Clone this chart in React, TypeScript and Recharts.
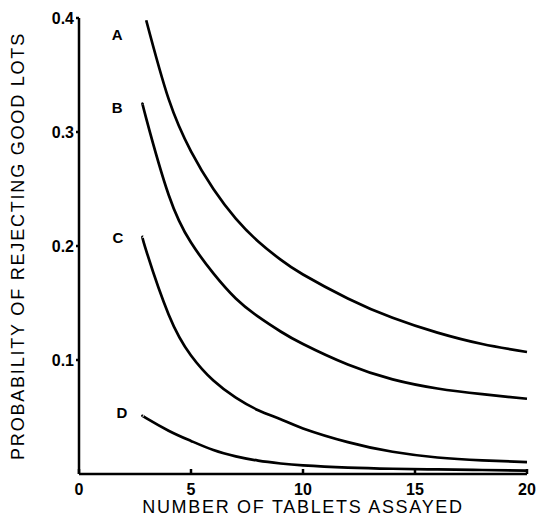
import React from 'react';
import { LineChart, Line, XAxis, YAxis, ReferenceDot, Label } from 'recharts';

const TABLETS = [2.85, 3, 4, 5, 6, 7, 8, 9, 10, 12, 14, 16, 18, 20];
const CURVE_A = [null, 0.398, 0.329, 0.283, 0.25, 0.224, 0.204, 0.188, 0.175, 0.154, 0.137, 0.124, 0.114, 0.107];
const CURVE_B = [0.324, 0.312, 0.245, 0.203, 0.176, 0.154, 0.138, 0.125, 0.114, 0.096, 0.083, 0.075, 0.07, 0.066];
const CURVE_C = [0.208, 0.196, 0.14, 0.104, 0.082, 0.067, 0.056, 0.048, 0.04, 0.028, 0.0195, 0.0145, 0.012, 0.0105];
const CURVE_D = [0.051, 0.049, 0.038, 0.029, 0.021, 0.0155, 0.0117, 0.0092, 0.0075, 0.0056, 0.0046, 0.004, 0.0035, 0.003];

const X_TICKS = [0, 5, 10, 15, 20];
const Y_TICKS = [0.1, 0.2, 0.3, 0.4];
const Y_TICK_LABELS = ['0.1', '0.2', '0.3', '0.4'];

const CURVE_NAMES = ['A', 'B', 'C', 'D'];
const NAME_X = [1.7, 1.7, 1.74, 1.92];
const NAME_Y = [0.385, 0.321, 0.207, 0.054];

const data = TABLETS.map((x, i) => ({
  x,
  A: CURVE_A[i],
  B: CURVE_B[i],
  C: CURVE_C[i],
  D: CURVE_D[i],
}));

const FONT = '"Liberation Sans", Arial, sans-serif';
const X_TICK_SIZE = 4;
const X_TICK_MARGIN = 6;

function XTick(props: any) {
  const { x, y, payload } = props;
  const axisY = y - X_TICK_SIZE - X_TICK_MARGIN;
  return (
    <g>
      <line x1={x} x2={x} y1={axisY} y2={axisY - 5} stroke="#000" strokeWidth={2.5} />
      <text
        x={x}
        y={y}
        dy="0.71em"
        textAnchor="middle"
        fill="#000"
        fontSize={16}
        fontWeight="bold"
        fontFamily={FONT}
      >
        {payload.value}
      </text>
    </g>
  );
}

export default function App() {
  return (
    <div style={{ position: 'absolute', left: 0, top: 0, width: 539, height: 522, background: '#fff' }}>
      <LineChart
        width={539}
        height={522}
        data={data}
        margin={{ top: 18, right: 12, bottom: 18, left: 19 }}
        style={{ fontFamily: FONT }}
      >
        <XAxis
          dataKey="x"
          type="number"
          domain={[0, 20]}
          ticks={X_TICKS}
          height={30}
          stroke="#000"
          strokeWidth={2.5}
          tickSize={X_TICK_SIZE}
          tickMargin={X_TICK_MARGIN}
          tickLine={false}
          tick={<XTick />}
        >
          <Label
            value="NUMBER OF TABLETS ASSAYED"
            position="bottom"
            offset={-4}
            style={{ fill: '#000', fontSize: 18, letterSpacing: 1.7, fontFamily: FONT }}
          />
        </XAxis>
        <YAxis
          type="number"
          domain={[0, 0.4]}
          ticks={Y_TICKS}
          tickFormatter={(v: number) => Y_TICK_LABELS[Y_TICKS.indexOf(v)] ?? ''}
          width={60}
          stroke="#000"
          strokeWidth={2.5}
          tickSize={3}
          tickMargin={2}
          tick={{ fill: '#000', fontSize: 16, fontWeight: 'bold', fontFamily: FONT }}
        >
          <Label
            value="PROBABILITY OF REJECTING GOOD LOTS"
            angle={-90}
            position="insideLeft"
            offset={-1}
            style={{ fill: '#000', fontSize: 18, letterSpacing: 1.8, textAnchor: 'middle', fontFamily: FONT }}
          />
        </YAxis>
        {CURVE_NAMES.map((n) => (
          <Line
            key={n}
            dataKey={n}
            type="natural"
            stroke="#000"
            strokeWidth={2.7}
            dot={false}
            activeDot={false}
            isAnimationActive={false}
          />
        ))}
        {CURVE_NAMES.map((n, i) => (
          <ReferenceDot
            key={'lbl' + n}
            x={NAME_X[i]}
            y={NAME_Y[i]}
            r={0}
            fill="none"
            stroke="none"
            label={{ value: n, position: 'center', fill: '#000', fontSize: 15, fontWeight: 'bold', fontFamily: FONT }}
          />
        ))}
      </LineChart>
    </div>
  );
}
